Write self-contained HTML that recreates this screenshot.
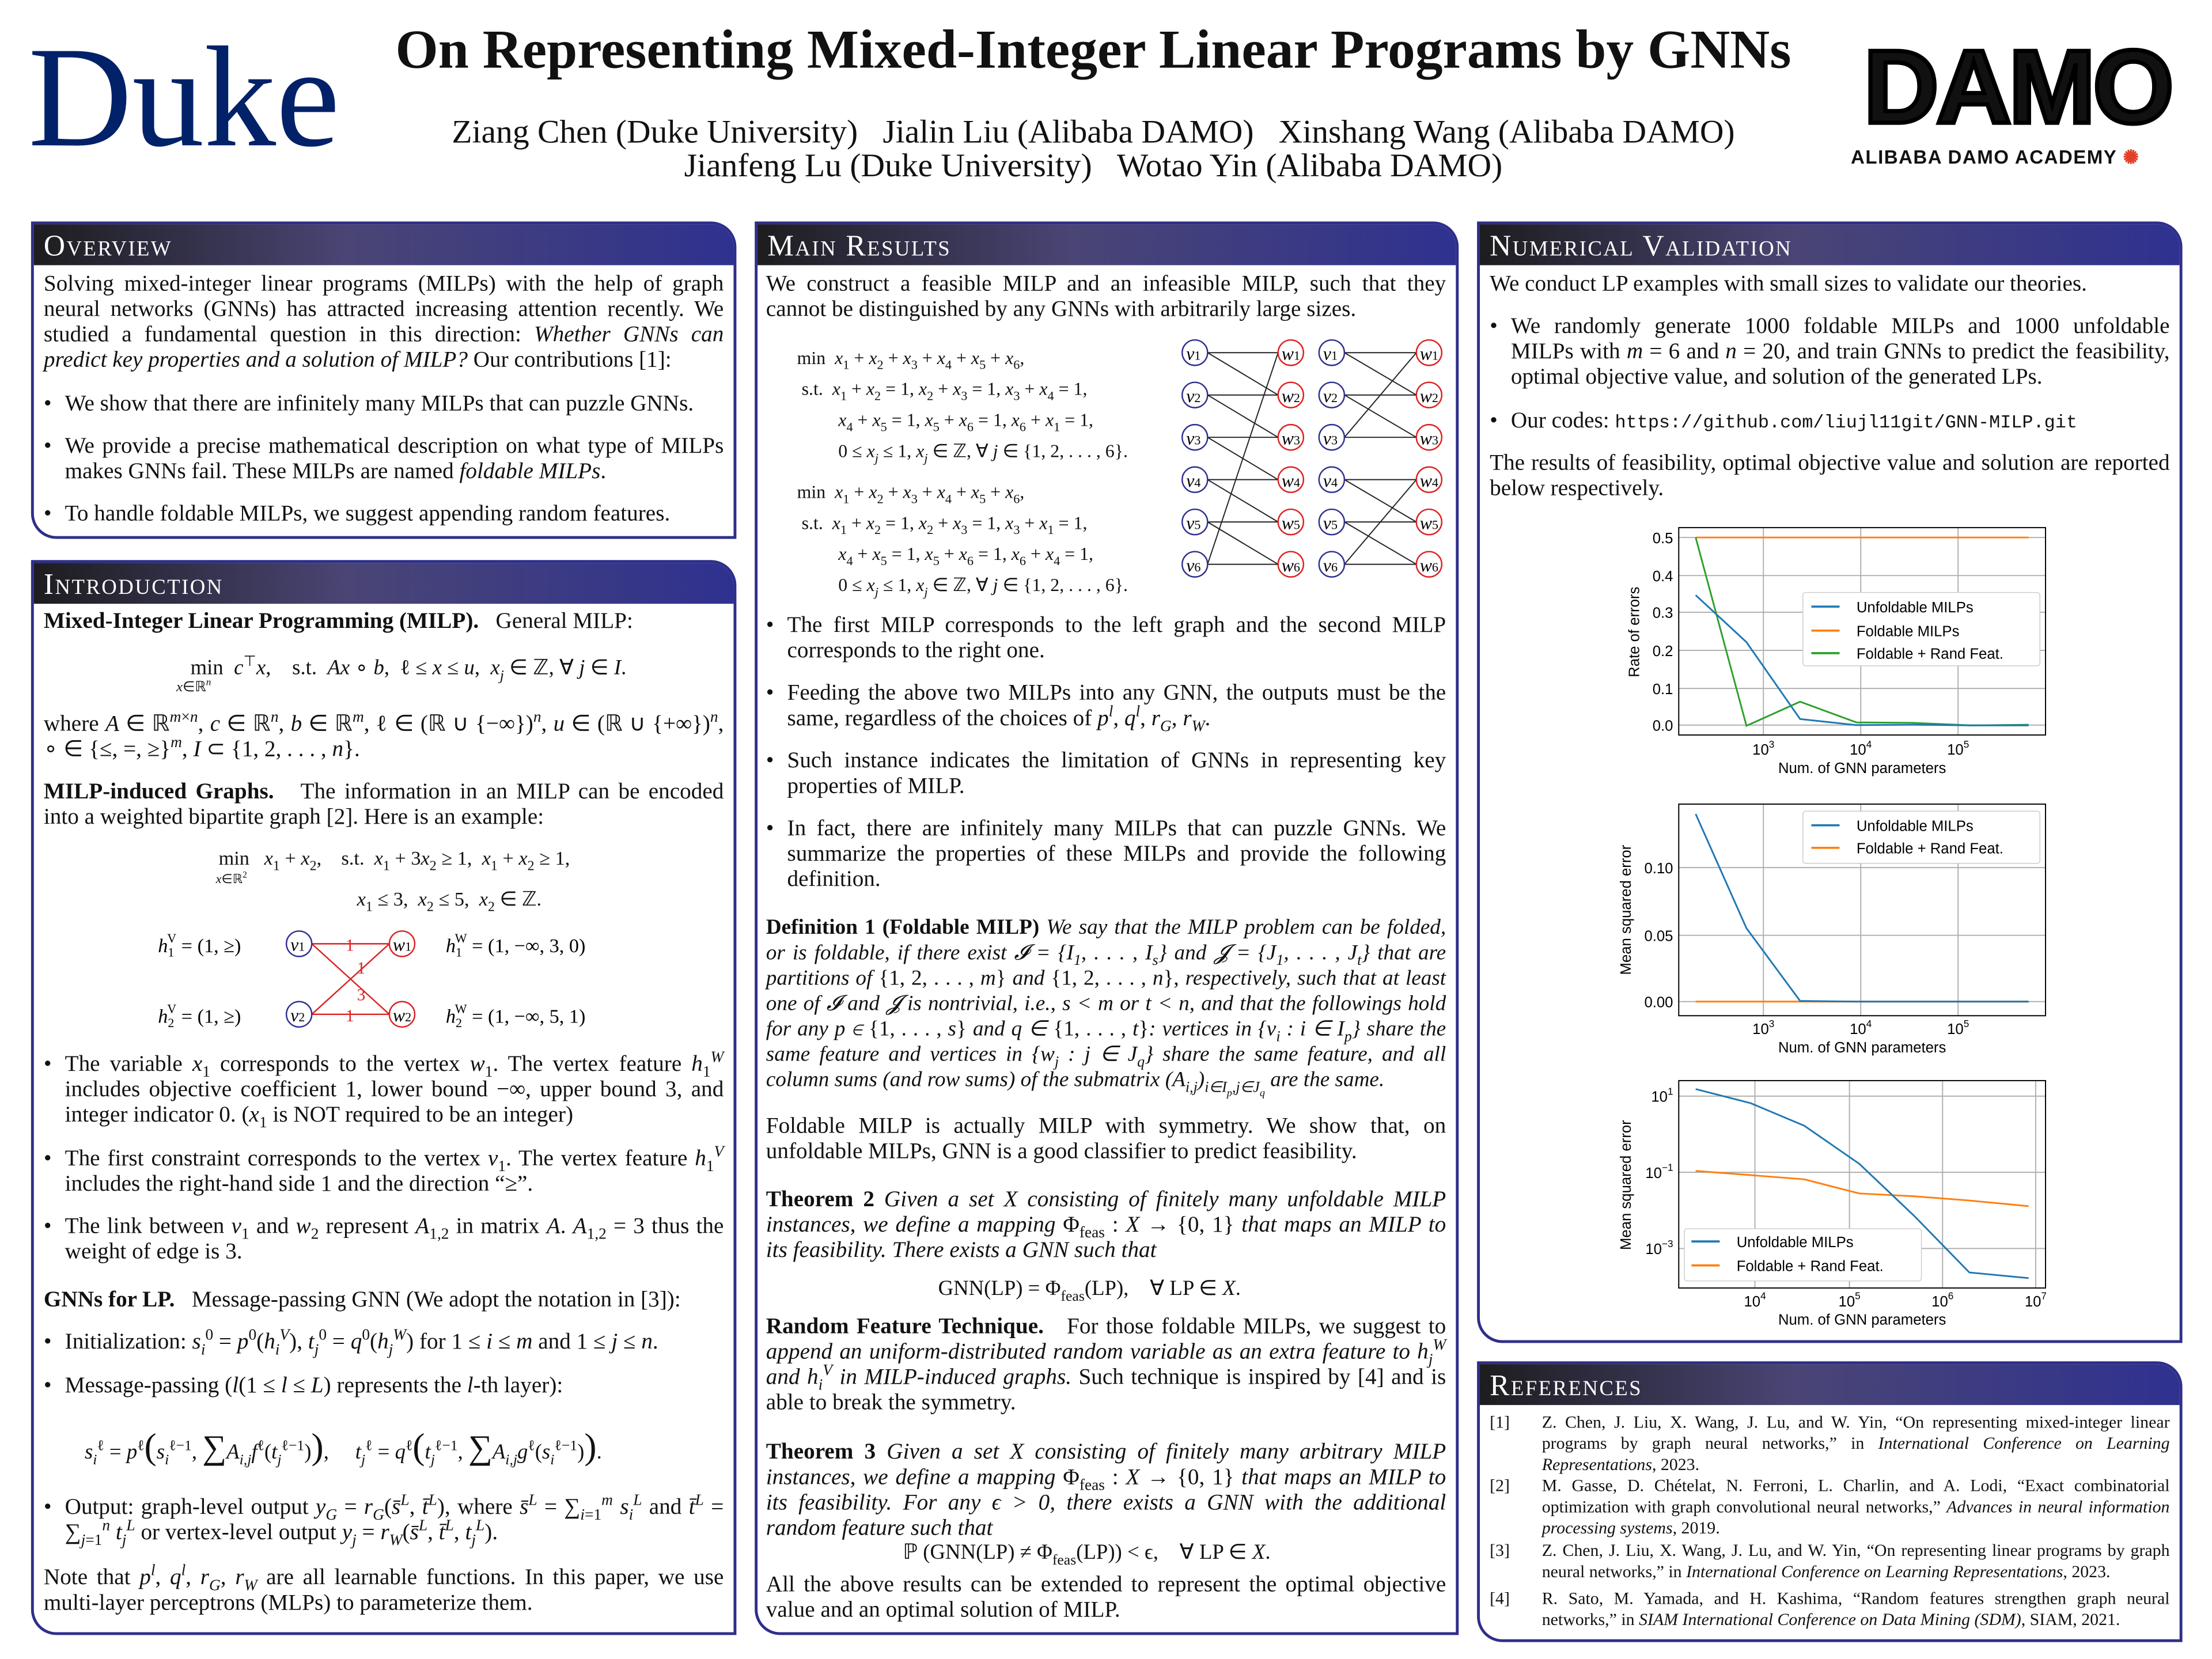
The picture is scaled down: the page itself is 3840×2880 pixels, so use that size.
<!DOCTYPE html>
<html><head><meta charset="utf-8">
<style>
html,body{margin:0;padding:0;background:#fff;}
body{width:3840px;height:2880px;overflow:hidden;position:relative;}
#w{position:absolute;left:0;top:0;width:1568px;height:1176px;transform:scale(2.44898);transform-origin:0 0;font-family:"Liberation Serif",serif;color:#111;}
.a{position:absolute;}
sup,sub{line-height:0;font-size:70%;}
.panel{position:absolute;border:2px solid #2e2f8a;border-radius:0 18px 0 18px;box-sizing:border-box;background:#fff;}
.hd{position:absolute;left:0;right:0;top:0;height:29px;background:linear-gradient(90deg,#1d1d1f 0%,#4a4575 45%,#2f3190 100%);border-radius:0 16px 0 0;color:#fff;font-size:21px;line-height:31px;padding-left:7px;font-variant:small-caps;letter-spacing:1px;}
.t{position:absolute;font-size:16px;line-height:18px;text-align:justify;}
.b{position:absolute;font-size:16px;line-height:18px;text-align:justify;padding-left:15px;box-sizing:border-box;}
.b:before{content:"•";position:absolute;left:0;top:0;}
.eq{position:absolute;font-size:14px;line-height:18px;white-space:nowrap;}
i{font-style:italic;}
.ref{position:absolute;font-size:12.2px;line-height:15px;text-align:justify;padding-left:37px;box-sizing:border-box;}
.ref span{position:absolute;left:0;}
</style></head><body><div id="w">

<!-- Header -->
<div class="a" style="left:20px;top:17px;font-size:102px;line-height:106px;color:#012169;font-family:'Liberation Serif',serif;">Duke</div>
<div class="a" style="left:230px;width:1090px;top:14px;text-align:center;font-size:39px;font-weight:bold;line-height:44px;">On Representing Mixed-Integer Linear Programs by GNNs</div>
<div class="a" style="left:230px;width:1090px;top:82px;text-align:center;font-size:23.5px;line-height:24px;">Ziang Chen (Duke University) &nbsp;&nbsp;Jialin Liu (Alibaba DAMO) &nbsp;&nbsp;Xinshang Wang (Alibaba DAMO)<br>Jianfeng Lu (Duke University) &nbsp;&nbsp;Wotao Yin (Alibaba DAMO)</div>
<div class="a" style="left:1310px;top:22px;width:240px;text-align:center;font-family:'Liberation Sans',sans-serif;font-weight:900;font-size:74px;line-height:80px;letter-spacing:-2px;-webkit-text-stroke:3px #000;">DAMO</div>
<div class="a" style="left:1312px;top:104px;font-family:'Liberation Sans',sans-serif;font-weight:bold;font-size:13.5px;letter-spacing:0.6px;">ALIBABA DAMO ACADEMY <span style="color:#e0402a">✺</span></div>

<!-- Overview -->
<div class="panel" style="left:22px;top:157px;width:500px;height:225px;"><div class="hd">Overview</div></div>
<div class="t" style="left:31px;top:193px;width:482px;">Solving mixed-integer linear programs (MILPs) with the help of graph neural networks (GNNs) has attracted increasing attention recently. We studied a fundamental question in this direction: <i>Whether GNNs can predict key properties and a solution of MILP?</i> Our contributions [1]:</div>
<div class="b" style="left:31px;top:278px;width:482px;">We show that there are infinitely many MILPs that can puzzle GNNs.</div>
<div class="b" style="left:31px;top:308px;width:482px;">We provide a precise mathematical description on what type of MILPs makes GNNs fail. These MILPs are named <i>foldable MILPs</i>.</div>
<div class="b" style="left:31px;top:356px;width:482px;">To handle foldable MILPs, we suggest appending random features.</div>

<!-- Introduction -->
<div class="panel" style="left:22px;top:397px;width:500px;height:762px;"><div class="hd">Introduction</div></div>
<div class="t" style="left:31px;top:432px;width:482px;"><b>Mixed-Integer Linear Programming (MILP).</b> &nbsp;&nbsp;General MILP:</div>
<div class="eq" style="left:135px;top:465px;font-size:15px;">min &nbsp;<i>c</i><sup>⊤</sup><i>x</i>, &nbsp;&nbsp;&nbsp;s.t. &nbsp;<i>Ax</i> ∘ <i>b</i>, &nbsp;ℓ ≤ <i>x</i> ≤ <i>u</i>, &nbsp;<i>x<sub>j</sub></i> ∈ ℤ, ∀ <i>j</i> ∈ <i>I</i>.</div>
<div class="eq" style="left:125px;top:479px;font-size:10px;"><i>x</i>∈ℝ<sup><i>n</i></sup></div>
<div class="t" style="left:31px;top:505px;width:482px;">where <i>A</i> ∈ ℝ<sup><i>m</i>×<i>n</i></sup>, <i>c</i> ∈ ℝ<sup><i>n</i></sup>, <i>b</i> ∈ ℝ<sup><i>m</i></sup>, ℓ ∈ (ℝ ∪ {−∞})<sup><i>n</i></sup>, <i>u</i> ∈ (ℝ ∪ {+∞})<sup><i>n</i></sup>, ∘ ∈ {≤, =, ≥}<sup><i>m</i></sup>, <i>I</i> ⊂ {1, 2, . . . , <i>n</i>}.</div>
<div class="t" style="left:31px;top:553px;width:482px;"><b>MILP-induced Graphs.</b> &nbsp;&nbsp;The information in an MILP can be encoded into a weighted bipartite graph [2]. Here is an example:</div>
<div class="eq" style="left:155px;top:601px;">min &nbsp;&nbsp;<i>x</i><sub>1</sub> + <i>x</i><sub>2</sub>, &nbsp;&nbsp;&nbsp;s.t. &nbsp;<i>x</i><sub>1</sub> + 3<i>x</i><sub>2</sub> ≥ 1, &nbsp;<i>x</i><sub>1</sub> + <i>x</i><sub>2</sub> ≥ 1,</div>
<div class="eq" style="left:153px;top:614px;font-size:9px;"><i>x</i>∈ℝ<sup>2</sup></div>
<div class="eq" style="left:253px;top:630px;"><i>x</i><sub>1</sub> ≤ 3, &nbsp;<i>x</i><sub>2</sub> ≤ 5, &nbsp;<i>x</i><sub>2</sub> ∈ ℤ.</div>
<svg class="a" style="left:100px;top:650px" width="420" height="90" viewBox="100 650 420 90">
<g stroke="#d22" stroke-width="1"><line x1="221" y1="669" x2="276" y2="669"/><line x1="221" y1="719" x2="276" y2="719"/><line x1="221" y1="669" x2="276" y2="719"/><line x1="221" y1="719" x2="276" y2="669"/></g>
<circle cx="212" cy="669" r="9" fill="#fff" stroke="#2e3192"/><circle cx="212" cy="719" r="9" fill="#fff" stroke="#2e3192"/>
<circle cx="285" cy="669" r="9" fill="#fff" stroke="#d22"/><circle cx="285" cy="719" r="9" fill="#fff" stroke="#d22"/>
<g font-family="Liberation Serif" font-size="13" font-style="italic" text-anchor="middle"><text x="211" y="674">v<tspan font-size="9" font-style="normal">1</tspan></text><text x="211" y="724">v<tspan font-size="9" font-style="normal">2</tspan></text><text x="285" y="674">w<tspan font-size="9" font-style="normal">1</tspan></text><text x="285" y="724">w<tspan font-size="9" font-style="normal">2</tspan></text></g>
<g font-family="Liberation Serif" font-size="12" fill="#d22" text-anchor="middle"><text x="248" y="674">1</text><text x="248" y="724">1</text><text x="256" y="690">1</text><text x="256" y="709">3</text></g>
<g font-family="Liberation Serif" font-size="14"><text x="112" y="675"><tspan font-style="italic">h</tspan><tspan font-size="9" dy="3">1</tspan><tspan font-size="9" dy="-10" dx="-5">V</tspan><tspan dy="7"> = (1, ≥)</tspan></text>
<text x="112" y="725"><tspan font-style="italic">h</tspan><tspan font-size="9" dy="3">2</tspan><tspan font-size="9" dy="-10" dx="-5">V</tspan><tspan dy="7"> = (1, ≥)</tspan></text>
<text x="316" y="675"><tspan font-style="italic">h</tspan><tspan font-size="9" dy="3">1</tspan><tspan font-size="9" dy="-10" dx="-5">W</tspan><tspan dy="7"> = (1, −∞, 3, 0)</tspan></text>
<text x="316" y="725"><tspan font-style="italic">h</tspan><tspan font-size="9" dy="3">2</tspan><tspan font-size="9" dy="-10" dx="-5">W</tspan><tspan dy="7"> = (1, −∞, 5, 1)</tspan></text></g>
</svg>
<div class="b" style="left:31px;top:746px;width:482px;">The variable <i>x</i><sub>1</sub> corresponds to the vertex <i>w</i><sub>1</sub>. The vertex feature <i>h</i><sub>1</sub><sup><i>W</i></sup> includes objective coefficient 1, lower bound −∞, upper bound 3, and integer indicator 0. (<i>x</i><sub>1</sub> is NOT required to be an integer)</div>
<div class="b" style="left:31px;top:813px;width:482px;">The first constraint corresponds to the vertex <i>v</i><sub>1</sub>. The vertex feature <i>h</i><sub>1</sub><sup><i>V</i></sup> includes the right-hand side 1 and the direction “≥”.</div>
<div class="b" style="left:31px;top:861px;width:482px;">The link between <i>v</i><sub>1</sub> and <i>w</i><sub>2</sub> represent <i>A</i><sub>1,2</sub> in matrix <i>A</i>. <i>A</i><sub>1,2</sub> = 3 thus the weight of edge is 3.</div>
<div class="t" style="left:31px;top:913px;width:482px;"><b>GNNs for LP.</b> &nbsp;&nbsp;Message-passing GNN (We adopt the notation in [3]):</div>
<div class="b" style="left:31px;top:943px;width:482px;">Initialization: <i>s</i><sub><i>i</i></sub><sup>0</sup> = <i>p</i><sup>0</sup>(<i>h</i><sub><i>i</i></sub><sup><i>V</i></sup>), <i>t</i><sub><i>j</i></sub><sup>0</sup> = <i>q</i><sup>0</sup>(<i>h</i><sub><i>j</i></sub><sup><i>W</i></sup>) for 1 ≤ <i>i</i> ≤ <i>m</i> and 1 ≤ <i>j</i> ≤ <i>n</i>.</div>
<div class="b" style="left:31px;top:974px;width:482px;">Message-passing (<i>l</i>(1 ≤ <i>l</i> ≤ <i>L</i>) represents the <i>l</i>-th layer):</div>
<div class="eq" style="left:60px;top:1015px;font-size:15px;line-height:22px;"><i>s</i><sub><i>i</i></sub><sup>ℓ</sup> = <i>p</i><sup>ℓ</sup><span style="font-size:26px">(</span><i>s</i><sub><i>i</i></sub><sup>ℓ−1</sup>, <span style="font-size:24px">∑</span><i>A</i><sub><i>i,j</i></sub><i>f</i><sup>ℓ</sup>(<i>t</i><sub><i>j</i></sub><sup>ℓ−1</sup>)<span style="font-size:26px">)</span>, &nbsp;&nbsp;&nbsp;&nbsp;<i>t</i><sub><i>j</i></sub><sup>ℓ</sup> = <i>q</i><sup>ℓ</sup><span style="font-size:26px">(</span><i>t</i><sub><i>j</i></sub><sup>ℓ−1</sup>, <span style="font-size:24px">∑</span><i>A</i><sub><i>i,j</i></sub><i>g</i><sup>ℓ</sup>(<i>s</i><sub><i>i</i></sub><sup>ℓ−1</sup>)<span style="font-size:26px">)</span>.</div>
<div class="b" style="left:31px;top:1060px;width:482px;">Output: graph-level output <i>y<sub>G</sub></i> = <i>r<sub>G</sub></i>(<i>s̄</i><sup><i>L</i></sup>, <i>t̄</i><sup><i>L</i></sup>), where <i>s̄</i><sup><i>L</i></sup> = ∑<sub><i>i</i>=1</sub><sup><i>m</i></sup> <i>s</i><sub><i>i</i></sub><sup><i>L</i></sup> and <i>t̄</i><sup><i>L</i></sup> = ∑<sub><i>j</i>=1</sub><sup><i>n</i></sup> <i>t</i><sub><i>j</i></sub><sup><i>L</i></sup> or vertex-level output <i>y<sub>j</sub></i> = <i>r<sub>W</sub></i>(<i>s̄</i><sup><i>L</i></sup>, <i>t̄</i><sup><i>L</i></sup>, <i>t</i><sub><i>j</i></sub><sup><i>L</i></sup>).</div>
<div class="t" style="left:31px;top:1110px;width:482px;">Note that <i>p</i><sup><i>l</i></sup>, <i>q</i><sup><i>l</i></sup>, <i>r<sub>G</sub></i>, <i>r<sub>W</sub></i> are all learnable functions. In this paper, we use multi-layer perceptrons (MLPs) to parameterize them.</div>

<!-- Main Results -->
<div class="panel" style="left:535px;top:157px;width:499px;height:1002px;"><div class="hd">Main Results</div></div>
<div class="t" style="left:543px;top:193px;width:482px;">We construct a feasible MILP and an infeasible MILP, such that they cannot be distinguished by any GNNs with arbitrarily large sizes.</div>
<div class="eq" style="left:565px;top:243px;font-size:13px;line-height:22px;">min &nbsp;<i>x</i><sub>1</sub> + <i>x</i><sub>2</sub> + <i>x</i><sub>3</sub> + <i>x</i><sub>4</sub> + <i>x</i><sub>5</sub> + <i>x</i><sub>6</sub>,<br>&nbsp;s.t. &nbsp;<i>x</i><sub>1</sub> + <i>x</i><sub>2</sub> = 1, <i>x</i><sub>2</sub> + <i>x</i><sub>3</sub> = 1, <i>x</i><sub>3</sub> + <i>x</i><sub>4</sub> = 1,<br>&nbsp;&nbsp;&nbsp;&nbsp;&nbsp;&nbsp;&nbsp;&nbsp;&nbsp;<i>x</i><sub>4</sub> + <i>x</i><sub>5</sub> = 1, <i>x</i><sub>5</sub> + <i>x</i><sub>6</sub> = 1, <i>x</i><sub>6</sub> + <i>x</i><sub>1</sub> = 1,<br>&nbsp;&nbsp;&nbsp;&nbsp;&nbsp;&nbsp;&nbsp;&nbsp;&nbsp;0 ≤ <i>x<sub>j</sub></i> ≤ 1, <i>x<sub>j</sub></i> ∈ ℤ, ∀ <i>j</i> ∈ {1, 2, . . . , 6}.</div>
<div class="eq" style="left:565px;top:338px;font-size:13px;line-height:22px;">min &nbsp;<i>x</i><sub>1</sub> + <i>x</i><sub>2</sub> + <i>x</i><sub>3</sub> + <i>x</i><sub>4</sub> + <i>x</i><sub>5</sub> + <i>x</i><sub>6</sub>,<br>&nbsp;s.t. &nbsp;<i>x</i><sub>1</sub> + <i>x</i><sub>2</sub> = 1, <i>x</i><sub>2</sub> + <i>x</i><sub>3</sub> = 1, <i>x</i><sub>3</sub> + <i>x</i><sub>1</sub> = 1,<br>&nbsp;&nbsp;&nbsp;&nbsp;&nbsp;&nbsp;&nbsp;&nbsp;&nbsp;<i>x</i><sub>4</sub> + <i>x</i><sub>5</sub> = 1, <i>x</i><sub>5</sub> + <i>x</i><sub>6</sub> = 1, <i>x</i><sub>6</sub> + <i>x</i><sub>4</sub> = 1,<br>&nbsp;&nbsp;&nbsp;&nbsp;&nbsp;&nbsp;&nbsp;&nbsp;&nbsp;0 ≤ <i>x<sub>j</sub></i> ≤ 1, <i>x<sub>j</sub></i> ∈ ℤ, ∀ <i>j</i> ∈ {1, 2, . . . , 6}.</div>
<svg class="a" style="left:830px;top:235px" width="200" height="180" viewBox="830 235 200 180">
<g stroke="#222" stroke-width="0.8">
<line x1="856" y1="250" x2="906" y2="250"/><line x1="856" y1="250" x2="906" y2="280"/><line x1="856" y1="280" x2="906" y2="280"/><line x1="856" y1="280" x2="906" y2="310"/><line x1="856" y1="310" x2="906" y2="310"/><line x1="856" y1="310" x2="906" y2="340"/><line x1="856" y1="340" x2="906" y2="340"/><line x1="856" y1="340" x2="906" y2="370"/><line x1="856" y1="370" x2="906" y2="370"/><line x1="856" y1="370" x2="906" y2="400"/><line x1="856" y1="400" x2="906" y2="400"/><line x1="856" y1="400" x2="906" y2="250"/>
<line x1="953" y1="250" x2="1004" y2="250"/><line x1="953" y1="250" x2="1004" y2="280"/><line x1="953" y1="280" x2="1004" y2="280"/><line x1="953" y1="280" x2="1004" y2="310"/><line x1="953" y1="310" x2="1004" y2="310"/><line x1="953" y1="310" x2="1004" y2="250"/><line x1="953" y1="340" x2="1004" y2="340"/><line x1="953" y1="340" x2="1004" y2="370"/><line x1="953" y1="370" x2="1004" y2="370"/><line x1="953" y1="370" x2="1004" y2="400"/><line x1="953" y1="400" x2="1004" y2="400"/><line x1="953" y1="400" x2="1004" y2="340"/>
</g>
<g fill="#fff" stroke="#2e3192"><circle cx="847" cy="250" r="9"/><circle cx="847" cy="280" r="9"/><circle cx="847" cy="310" r="9"/><circle cx="847" cy="340" r="9"/><circle cx="847" cy="370" r="9"/><circle cx="847" cy="400" r="9"/><circle cx="944" cy="250" r="9"/><circle cx="944" cy="280" r="9"/><circle cx="944" cy="310" r="9"/><circle cx="944" cy="340" r="9"/><circle cx="944" cy="370" r="9"/><circle cx="944" cy="400" r="9"/></g>
<g fill="#fff" stroke="#d22"><circle cx="915" cy="250" r="9"/><circle cx="915" cy="280" r="9"/><circle cx="915" cy="310" r="9"/><circle cx="915" cy="340" r="9"/><circle cx="915" cy="370" r="9"/><circle cx="915" cy="400" r="9"/><circle cx="1013" cy="250" r="9"/><circle cx="1013" cy="280" r="9"/><circle cx="1013" cy="310" r="9"/><circle cx="1013" cy="340" r="9"/><circle cx="1013" cy="370" r="9"/><circle cx="1013" cy="400" r="9"/></g>
<g font-family="Liberation Serif" font-size="13" font-style="italic" text-anchor="middle">
<text x="846" y="255">v<tspan font-size="9" font-style="normal">1</tspan></text><text x="846" y="285">v<tspan font-size="9" font-style="normal">2</tspan></text><text x="846" y="315">v<tspan font-size="9" font-style="normal">3</tspan></text><text x="846" y="345">v<tspan font-size="9" font-style="normal">4</tspan></text><text x="846" y="375">v<tspan font-size="9" font-style="normal">5</tspan></text><text x="846" y="405">v<tspan font-size="9" font-style="normal">6</tspan></text>
<text x="943" y="255">v<tspan font-size="9" font-style="normal">1</tspan></text><text x="943" y="285">v<tspan font-size="9" font-style="normal">2</tspan></text><text x="943" y="315">v<tspan font-size="9" font-style="normal">3</tspan></text><text x="943" y="345">v<tspan font-size="9" font-style="normal">4</tspan></text><text x="943" y="375">v<tspan font-size="9" font-style="normal">5</tspan></text><text x="943" y="405">v<tspan font-size="9" font-style="normal">6</tspan></text>
<text x="915" y="255">w<tspan font-size="9" font-style="normal">1</tspan></text><text x="915" y="285">w<tspan font-size="9" font-style="normal">2</tspan></text><text x="915" y="315">w<tspan font-size="9" font-style="normal">3</tspan></text><text x="915" y="345">w<tspan font-size="9" font-style="normal">4</tspan></text><text x="915" y="375">w<tspan font-size="9" font-style="normal">5</tspan></text><text x="915" y="405">w<tspan font-size="9" font-style="normal">6</tspan></text>
<text x="1013" y="255">w<tspan font-size="9" font-style="normal">1</tspan></text><text x="1013" y="285">w<tspan font-size="9" font-style="normal">2</tspan></text><text x="1013" y="315">w<tspan font-size="9" font-style="normal">3</tspan></text><text x="1013" y="345">w<tspan font-size="9" font-style="normal">4</tspan></text><text x="1013" y="375">w<tspan font-size="9" font-style="normal">5</tspan></text><text x="1013" y="405">w<tspan font-size="9" font-style="normal">6</tspan></text>
</g></svg>
<div class="b" style="left:543px;top:435px;width:482px;">The first MILP corresponds to the left graph and the second MILP corresponds to the right one.</div>
<div class="b" style="left:543px;top:483px;width:482px;">Feeding the above two MILPs into any GNN, the outputs must be the same, regardless of the choices of <i>p</i><sup><i>l</i></sup>, <i>q</i><sup><i>l</i></sup>, <i>r<sub>G</sub></i>, <i>r<sub>W</sub></i>.</div>
<div class="b" style="left:543px;top:531px;width:482px;">Such instance indicates the limitation of GNNs in representing key properties of MILP.</div>
<div class="b" style="left:543px;top:579px;width:482px;">In fact, there are infinitely many MILPs that can puzzle GNNs. We summarize the properties of these MILPs and provide the following definition.</div>
<div class="t" style="left:543px;top:649px;width:482px;font-size:15.2px;"><b>Definition 1 (Foldable MILP)</b> <i>We say that the MILP problem can be folded, or is foldable, if there exist 𝓘 = {I<sub>1</sub>, . . . , I<sub>s</sub>} and 𝓙 = {J<sub>1</sub>, . . . , J<sub>t</sub>} that are partitions of</i> {1, 2, . . . , <i>m</i>} <i>and</i> {1, 2, . . . , <i>n</i>}, <i>respectively, such that at least one of 𝓘 and 𝓙 is nontrivial, i.e., s &lt; m or t &lt; n, and that the followings hold for any p ∈</i> {1, . . . , <i>s</i>} <i>and q ∈</i> {1, . . . , <i>t</i>}<i>: vertices in {v<sub>i</sub> : i ∈ I<sub>p</sub>} share the same feature and vertices in {w<sub>j</sub> : j ∈ J<sub>q</sub>} share the same feature, and all column sums (and row sums) of the submatrix (A<sub>i,j</sub>)<sub>i∈I<sub>p</sub>,j∈J<sub>q</sub></sub> are the same.</i></div>
<div class="t" style="left:543px;top:790px;width:482px;">Foldable MILP is actually MILP with symmetry. We show that, on unfoldable MILPs, GNN is a good classifier to predict feasibility.</div>
<div class="t" style="left:543px;top:842px;width:482px;"><b>Theorem 2</b> <i>Given a set X consisting of finitely many unfoldable MILP instances, we define a mapping</i> Φ<sub>feas</sub> : <i>X</i> → {0, 1} <i>that maps an MILP to its feasibility. There exists a GNN such that</i></div>
<div class="eq" style="left:665px;top:905px;font-size:15px;">GNN(LP) = Φ<sub>feas</sub>(LP), &nbsp;&nbsp;&nbsp;∀ LP ∈ <i>X</i>.</div>
<div class="t" style="left:543px;top:932px;width:482px;"><b>Random Feature Technique.</b> &nbsp;&nbsp;For those foldable MILPs, we suggest to <i>append an uniform-distributed random variable as an extra feature to h<sub>j</sub><sup>W</sup> and h<sub>i</sub><sup>V</sup> in MILP-induced graphs.</i> Such technique is inspired by [4] and is able to break the symmetry.</div>
<div class="t" style="left:543px;top:1021px;width:482px;"><b>Theorem 3</b> <i>Given a set X consisting of finitely many arbitrary MILP instances, we define a mapping</i> Φ<sub>feas</sub> : <i>X</i> → {0, 1} <i>that maps an MILP to its feasibility. For any ϵ &gt; 0, there exists a GNN with the additional random feature such that</i></div>
<div class="eq" style="left:640px;top:1092px;font-size:15px;">ℙ (GNN(LP) ≠ Φ<sub>feas</sub>(LP)) &lt; ϵ, &nbsp;&nbsp;&nbsp;∀ LP ∈ <i>X</i>.</div>
<div class="t" style="left:543px;top:1115px;width:482px;">All the above results can be extended to represent the optimal objective value and an optimal solution of MILP.</div>

<!-- Numerical Validation -->
<div class="panel" style="left:1047px;top:157px;width:500px;height:795px;"><div class="hd">Numerical Validation</div></div>
<div class="t" style="left:1056px;top:193px;width:482px;">We conduct LP examples with small sizes to validate our theories.</div>
<div class="b" style="left:1056px;top:223px;width:482px;">We randomly generate 1000 foldable MILPs and 1000 unfoldable MILPs with <i>m</i> = 6 and <i>n</i> = 20, and train GNNs to predict the feasibility, optimal objective value, and solution of the generated LPs.</div>
<div class="b" style="left:1056px;top:290px;width:482px;">Our codes: <span style="font-family:'Liberation Mono',monospace;font-size:13px;">https://github.com/liujl11git/GNN-MILP.git</span></div>
<div class="t" style="left:1056px;top:320px;width:482px;">The results of feasibility, optimal objective value and solution are reported below respectively.</div>

<svg class="a" style="left:1140px;top:365px" width="320" height="590" viewBox="1140 365 320 590" font-family="Liberation Sans, sans-serif">
<g stroke="#b0b0b0" stroke-width="0.8"><line x1="1190" x2="1450" y1="381" y2="381"/><line x1="1190" x2="1450" y1="408" y2="408"/><line x1="1190" x2="1450" y1="434" y2="434"/><line x1="1190" x2="1450" y1="461" y2="461"/><line x1="1190" x2="1450" y1="488" y2="488"/><line x1="1190" x2="1450" y1="514" y2="514"/><line x1="1250" x2="1250" y1="374" y2="521"/><line x1="1319" x2="1319" y1="374" y2="521"/><line x1="1388" x2="1388" y1="374" y2="521"/></g>
<rect x="1190" y="374" width="260" height="147" fill="none" stroke="#000" stroke-width="0.8"/>
<polyline fill="none" stroke="#ff7f0e" stroke-width="1.2" points="1202,381 1238,381 1276,381 1316,381 1356,381 1397,381 1438,381"/>
<polyline fill="none" stroke="#2ca02c" stroke-width="1.2" points="1202,381 1238,514.5 1276,497.4 1316,512.1 1356,512.4 1397,514.2 1438,513.7"/>
<polyline fill="none" stroke="#1f77b4" stroke-width="1.2" points="1202,421.9 1238,455.2 1276,509.7 1316,514 1356,513.7 1397,514.2 1438,514.2"/>
<g font-size="10.5" text-anchor="end"><text x="1186" y="385">0.5</text><text x="1186" y="412">0.4</text><text x="1186" y="438">0.3</text><text x="1186" y="465">0.2</text><text x="1186" y="492">0.1</text><text x="1186" y="518">0.0</text></g>
<g font-size="10.5" text-anchor="middle"><text x="1250" y="535">10<tspan font-size="7" dy="-5">3</tspan></text><text x="1319" y="535">10<tspan font-size="7" dy="-5">4</tspan></text><text x="1388" y="535">10<tspan font-size="7" dy="-5">5</tspan></text><text x="1320" y="548">Num. of GNN parameters</text><text transform="translate(1162,448) rotate(-90)">Rate of errors</text></g>
<rect x="1278" y="420" width="168" height="52" fill="#fff" stroke="#ccc" stroke-width="0.6" rx="2"/>
<g stroke-width="1.5"><line x1="1284" x2="1304" y1="430" y2="430" stroke="#1f77b4"/><line x1="1284" x2="1304" y1="447" y2="447" stroke="#ff7f0e"/><line x1="1284" x2="1304" y1="463" y2="463" stroke="#2ca02c"/></g>
<g font-size="10.5"><text x="1316" y="434">Unfoldable MILPs</text><text x="1316" y="451">Foldable MILPs</text><text x="1316" y="467">Foldable + Rand Feat.</text></g>

<g stroke="#b0b0b0" stroke-width="0.8"><line x1="1190" x2="1450" y1="615" y2="615"/><line x1="1190" x2="1450" y1="663" y2="663"/><line x1="1190" x2="1450" y1="710" y2="710"/><line x1="1250" x2="1250" y1="570" y2="720"/><line x1="1319" x2="1319" y1="570" y2="720"/><line x1="1388" x2="1388" y1="570" y2="720"/></g>
<rect x="1190" y="570" width="260" height="150" fill="none" stroke="#000" stroke-width="0.8"/>
<polyline fill="none" stroke="#ff7f0e" stroke-width="1.2" points="1202,710 1238,710 1276,710 1316,710 1356,710 1397,710 1438,710"/>
<polyline fill="none" stroke="#1f77b4" stroke-width="1.2" points="1202,577 1238,658 1276,709.5 1316,710 1356,710 1397,710 1438,710"/>
<g font-size="10.5" text-anchor="end"><text x="1186" y="619">0.10</text><text x="1186" y="667">0.05</text><text x="1186" y="714">0.00</text></g>
<g font-size="10.5" text-anchor="middle"><text x="1250" y="733">10<tspan font-size="7" dy="-5">3</tspan></text><text x="1319" y="733">10<tspan font-size="7" dy="-5">4</tspan></text><text x="1388" y="733">10<tspan font-size="7" dy="-5">5</tspan></text><text x="1320" y="746">Num. of GNN parameters</text><text transform="translate(1156,645) rotate(-90)">Mean squared error</text></g>
<rect x="1278" y="575" width="168" height="37" fill="#fff" stroke="#ccc" stroke-width="0.6" rx="2"/>
<g stroke-width="1.5"><line x1="1284" x2="1304" y1="585" y2="585" stroke="#1f77b4"/><line x1="1284" x2="1304" y1="601" y2="601" stroke="#ff7f0e"/></g>
<g font-size="10.5"><text x="1316" y="589">Unfoldable MILPs</text><text x="1316" y="605">Foldable + Rand Feat.</text></g>

<g stroke="#b0b0b0" stroke-width="0.8"><line x1="1190" x2="1450" y1="777" y2="777"/><line x1="1190" x2="1450" y1="831" y2="831"/><line x1="1190" x2="1450" y1="885" y2="885"/><line x1="1244" x2="1244" y1="766" y2="913"/><line x1="1311" x2="1311" y1="766" y2="913"/><line x1="1377" x2="1377" y1="766" y2="913"/><line x1="1443" x2="1443" y1="766" y2="913"/></g>
<rect x="1190" y="766" width="260" height="147" fill="none" stroke="#000" stroke-width="0.8"/>
<polyline fill="none" stroke="#ff7f0e" stroke-width="1.2" points="1202,830 1241,833 1279,836 1318,846 1357,848 1396,851 1438,855"/>
<polyline fill="none" stroke="#1f77b4" stroke-width="1.2" points="1202,772 1241,782 1279,798 1318,825 1357,862 1396,902 1438,906"/>
<g font-size="10.5" text-anchor="end"><text x="1186" y="781">10<tspan font-size="7" dy="-5">1</tspan></text><text x="1186" y="835">10<tspan font-size="7" dy="-5">−1</tspan></text><text x="1186" y="889">10<tspan font-size="7" dy="-5">−3</tspan></text></g>
<g font-size="10.5" text-anchor="middle"><text x="1244" y="926">10<tspan font-size="7" dy="-5">4</tspan></text><text x="1311" y="926">10<tspan font-size="7" dy="-5">5</tspan></text><text x="1377" y="926">10<tspan font-size="7" dy="-5">6</tspan></text><text x="1443" y="926">10<tspan font-size="7" dy="-5">7</tspan></text><text x="1320" y="939">Num. of GNN parameters</text><text transform="translate(1156,840) rotate(-90)">Mean squared error</text></g>
<rect x="1194" y="871" width="168" height="37" fill="#fff" stroke="#ccc" stroke-width="0.6" rx="2"/>
<g stroke-width="1.5"><line x1="1199" x2="1219" y1="880" y2="880" stroke="#1f77b4"/><line x1="1199" x2="1219" y1="897" y2="897" stroke="#ff7f0e"/></g>
<g font-size="10.5"><text x="1231" y="884">Unfoldable MILPs</text><text x="1231" y="901">Foldable + Rand Feat.</text></g>
</svg>

<!-- References -->
<div class="panel" style="left:1047px;top:965px;width:500px;height:199px;"><div class="hd">References</div></div>
<div class="ref" style="left:1056px;top:1001px;width:482px;"><span>[1]</span>Z. Chen, J. Liu, X. Wang, J. Lu, and W. Yin, “On representing mixed-integer linear programs by graph neural networks,” in <i>International Conference on Learning Representations</i>, 2023.</div>
<div class="ref" style="left:1056px;top:1046px;width:482px;"><span>[2]</span>M. Gasse, D. Chételat, N. Ferroni, L. Charlin, and A. Lodi, “Exact combinatorial optimization with graph convolutional neural networks,” <i>Advances in neural information processing systems</i>, 2019.</div>
<div class="ref" style="left:1056px;top:1092px;width:482px;"><span>[3]</span>Z. Chen, J. Liu, X. Wang, J. Lu, and W. Yin, “On representing linear programs by graph neural networks,” in <i>International Conference on Learning Representations</i>, 2023.</div>
<div class="ref" style="left:1056px;top:1126px;width:482px;"><span>[4]</span>R. Sato, M. Yamada, and H. Kashima, “Random features strengthen graph neural networks,” in <i>SIAM International Conference on Data Mining (SDM)</i>, SIAM, 2021.</div>

</div></body></html>
